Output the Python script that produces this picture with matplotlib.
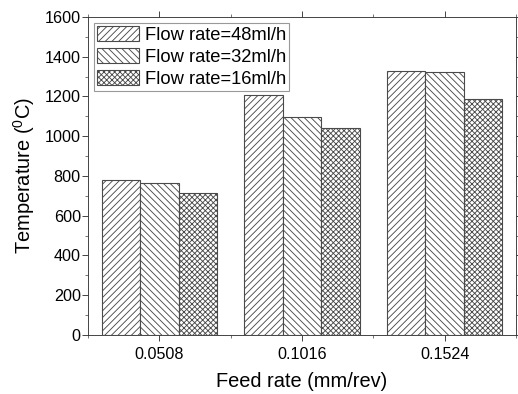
import numpy as np
import matplotlib
matplotlib.use("Agg")
from matplotlib import pyplot as plt
from matplotlib.ticker import MultipleLocator, FixedLocator

plt.rcParams['font.family'] = ['Liberation Sans', 'DejaVu Sans']
plt.rcParams['mathtext.fontset'] = 'custom'
plt.rcParams['mathtext.rm'] = 'Liberation Sans'
plt.rcParams['hatch.linewidth'] = 0.8

feed_rates = ['0.0508', '0.1016', '0.1524']
flow_labels = ['Flow rate=48ml/h', 'Flow rate=32ml/h', 'Flow rate=16ml/h']
temp_48 = [781, 1207, 1330]
temp_32 = [766, 1098, 1321]
temp_16 = [714, 1043, 1189]
hatches = ['////', '\\\\\\\\', 'xxxxx']

DPI = 80
fig = plt.figure(figsize=(518 / DPI, 394 / DPI), dpi=DPI)
ax = fig.add_axes([0.170, 0.150, 0.826, 0.807])

x = np.arange(len(feed_rates))
w = 0.27
for i, (vals, lab, h) in enumerate(zip([temp_48, temp_32, temp_16], flow_labels, hatches)):
    ax.bar(x + (i - 1) * w, vals, w, label=lab, color='white',
           edgecolor='#4a4a4a', hatch=h, linewidth=1.0)

ax.set_xlim(-0.5, 2.5)
ax.set_ylim(0, 1600)
ax.set_xticks(x)
ax.set_xticklabels(feed_rates)
ax.xaxis.set_minor_locator(FixedLocator([-0.5, 0.5, 1.5, 2.5]))
ax.yaxis.set_major_locator(MultipleLocator(200))
ax.yaxis.set_minor_locator(MultipleLocator(100))
ax.tick_params(which='both', direction='out', labelsize=14.5, color='#333333')
ax.tick_params(which='major', length=5)
ax.tick_params(which='minor', length=3)
ax.tick_params(top=True, right=True, which='both')
ax.tick_params(axis='y', pad=1.5)
ax.tick_params(axis='x', pad=6)
for sp in ax.spines.values():
    sp.set_color('#333333')

ax.set_xlabel('Feed rate (mm/rev)', fontsize=18, labelpad=9)
ax.set_ylabel(r'Temperature ($^0$C)', fontsize=18, labelpad=7)

ax.legend(loc='upper left', fontsize=16.5, handlelength=2.3, handleheight=0.9,
          handletextpad=0.3, labelspacing=0.22, borderpad=0.15,
          borderaxespad=0.35, fancybox=False, edgecolor='#999999', framealpha=1)

fig.savefig('out.png', dpi=DPI)
